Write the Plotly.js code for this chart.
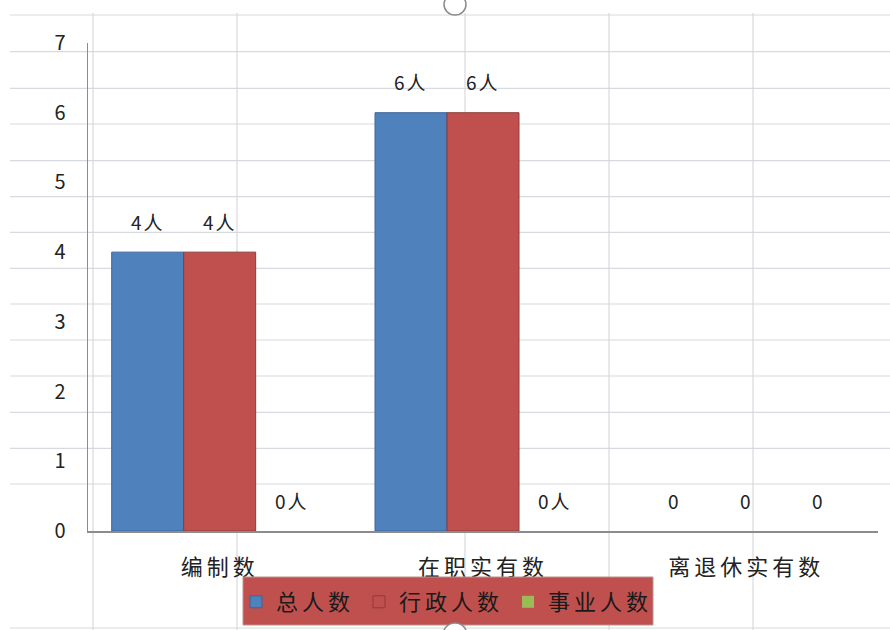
<!DOCTYPE html>
<html>
<head>
<meta charset="utf-8">
<script src="https://cdn.plot.ly/plotly-3.0.1.min.js"></script>
<style>
html,body{margin:0;padding:0;background:#fff;}
#chart{width:890px;height:630px;}
.xtick text{letter-spacing:4px;}
.legendtext{letter-spacing:4px;}
.annotation-text{letter-spacing:2px;}
</style>
</head>
<body>
<div id="chart"></div>
<script>
// ---- data ----
var categories = ["编制数", "在职实有数", "离退休实有数"];
var seriesNames = ["总人数", "行政人数", "事业人数"];
var totalValues = [4, 6, 0];
var adminValues = [4, 6, 0];
var publicValues = [0, 0, 0];
var totalLabels = ["4人", "6人", "0"];
var adminLabels = ["4人", "6人", "0"];
var publicLabels = ["0人", "0人", "0"];
var yTickValues = [0, 1, 2, 3, 4, 5, 6, 7];

// ---- styles ----
var colors = ["#4F81BD", "#C0504D", "#9BBB59"];
var outlines = ["#3a659a", "#8e3a38", "#71893f"];
var FONT = "'Noto Sans CJK SC', 'Noto Sans', sans-serif";
var BARGAP = 0.18;

var values = [totalValues, adminValues, publicValues];
var labels = [totalLabels, adminLabels, publicLabels];

var traces = values.map(function (v, i) {
  return {
    type: "bar",
    name: seriesNames[i],
    x: categories,
    y: v,
    marker: {
      color: colors[i],
      line: { color: outlines[i], width: v.map(function (d) { return d > 0 ? 1 : 0; }) }
    },
    hoverinfo: "x+y+name"
  };
});

// data labels via annotations, positioned from the data
var w = (1 - BARGAP) / 3;
var annotations = [];
labels.forEach(function (lab, i) {
  lab.forEach(function (t, j) {
    annotations.push({
      xref: "x", yref: "y",
      x: j + (i - 1) * w,
      y: values[i][j],
      text: t,
      showarrow: false,
      yanchor: "middle",
      yshift: 31,
      font: { family: FONT, size: 19, color: "#222" }
    });
  });
});

// spreadsheet cell grid in the background (pixel positions of the sheet)
var L = 88, R = 878, T = 43, B = 531;
function px(x) { return (x - L) / (R - L); }
function py(y) { return (B - y) / (B - T); }
var rowLines = [15, 51.7, 88.3, 124, 160.7, 196.7, 232.3, 268.3, 304, 340, 376, 412.3, 448.3, 484, 628];
var colLines = [93, 237, 465, 609, 753];
var shapes = [];
rowLines.forEach(function (y) {
  shapes.push({ type: "line", xref: "paper", yref: "paper", layer: "below",
    x0: px(10), x1: px(890), y0: py(y), y1: py(y),
    line: { color: "#d6d9de", width: 1.2 } });
});
colLines.forEach(function (x) {
  shapes.push({ type: "line", xref: "paper", yref: "paper", layer: "below",
    x0: px(x), x1: px(x), y0: py(13), y1: py(630),
    line: { color: "#d6d9de", width: 1.2 } });
});
// legend background box
shapes.push({ type: "rect", xref: "paper", yref: "paper", layer: "above",
  x0: px(243), x1: px(653), y0: py(577), y1: py(625),
  fillcolor: "#C0504D", line: { color: "#b9938f", width: 1 } });
// selection handles of the chart object
shapes.push({ type: "circle", xref: "paper", yref: "paper", layer: "above",
  x0: px(444), x1: px(466), y0: py(-6), y1: py(15),
  fillcolor: "#fff", line: { color: "#8a8a8a", width: 1.5 } });
shapes.push({ type: "circle", xref: "paper", yref: "paper", layer: "above",
  x0: px(443), x1: px(467), y0: py(623), y1: py(647),
  fillcolor: "#fff", line: { color: "#8a8a8a", width: 1.5 } });

var layout = {
  width: 890, height: 630,
  margin: { l: L, r: 890 - R, t: T, b: 630 - B, autoexpand: false },
  paper_bgcolor: "#ffffff",
  plot_bgcolor: "rgba(0,0,0,0)",
  barmode: "group",
  bargap: BARGAP,
  bargroupgap: 0,
  font: { family: FONT, color: "#222" },
  showlegend: true,
  legend: {
    orientation: "h",
    x: px(447), xanchor: "center",
    y: py(602), yanchor: "middle",
    bgcolor: "rgba(0,0,0,0)",
    font: { family: FONT, size: 22, color: "#1a1a1a" },
    itemclick: false
  },
  xaxis: {
    type: "category",
    automargin: false,
    showgrid: false,
    zeroline: false,
    showline: true,
    linecolor: "#8c8c8c",
    linewidth: 1.5,
    ticks: "outside",
    ticklen: 16,
    tickcolor: "rgba(0,0,0,0)",
    tickfont: { family: FONT, size: 22, color: "#222" }
  },
  yaxis: {
    range: [0, 7],
    automargin: false,
    tickvals: yTickValues,
    showgrid: false,
    zeroline: false,
    showline: true,
    linecolor: "#8c8c8c",
    linewidth: 1.5,
    ticks: "outside",
    ticklen: 17,
    tickcolor: "rgba(0,0,0,0)",
    tickfont: { family: FONT, size: 20, color: "#222" }
  },
  annotations: annotations,
  shapes: shapes
};

Plotly.newPlot("chart", traces, layout, { displayModeBar: false, staticPlot: true });
</script>
</body>
</html>
